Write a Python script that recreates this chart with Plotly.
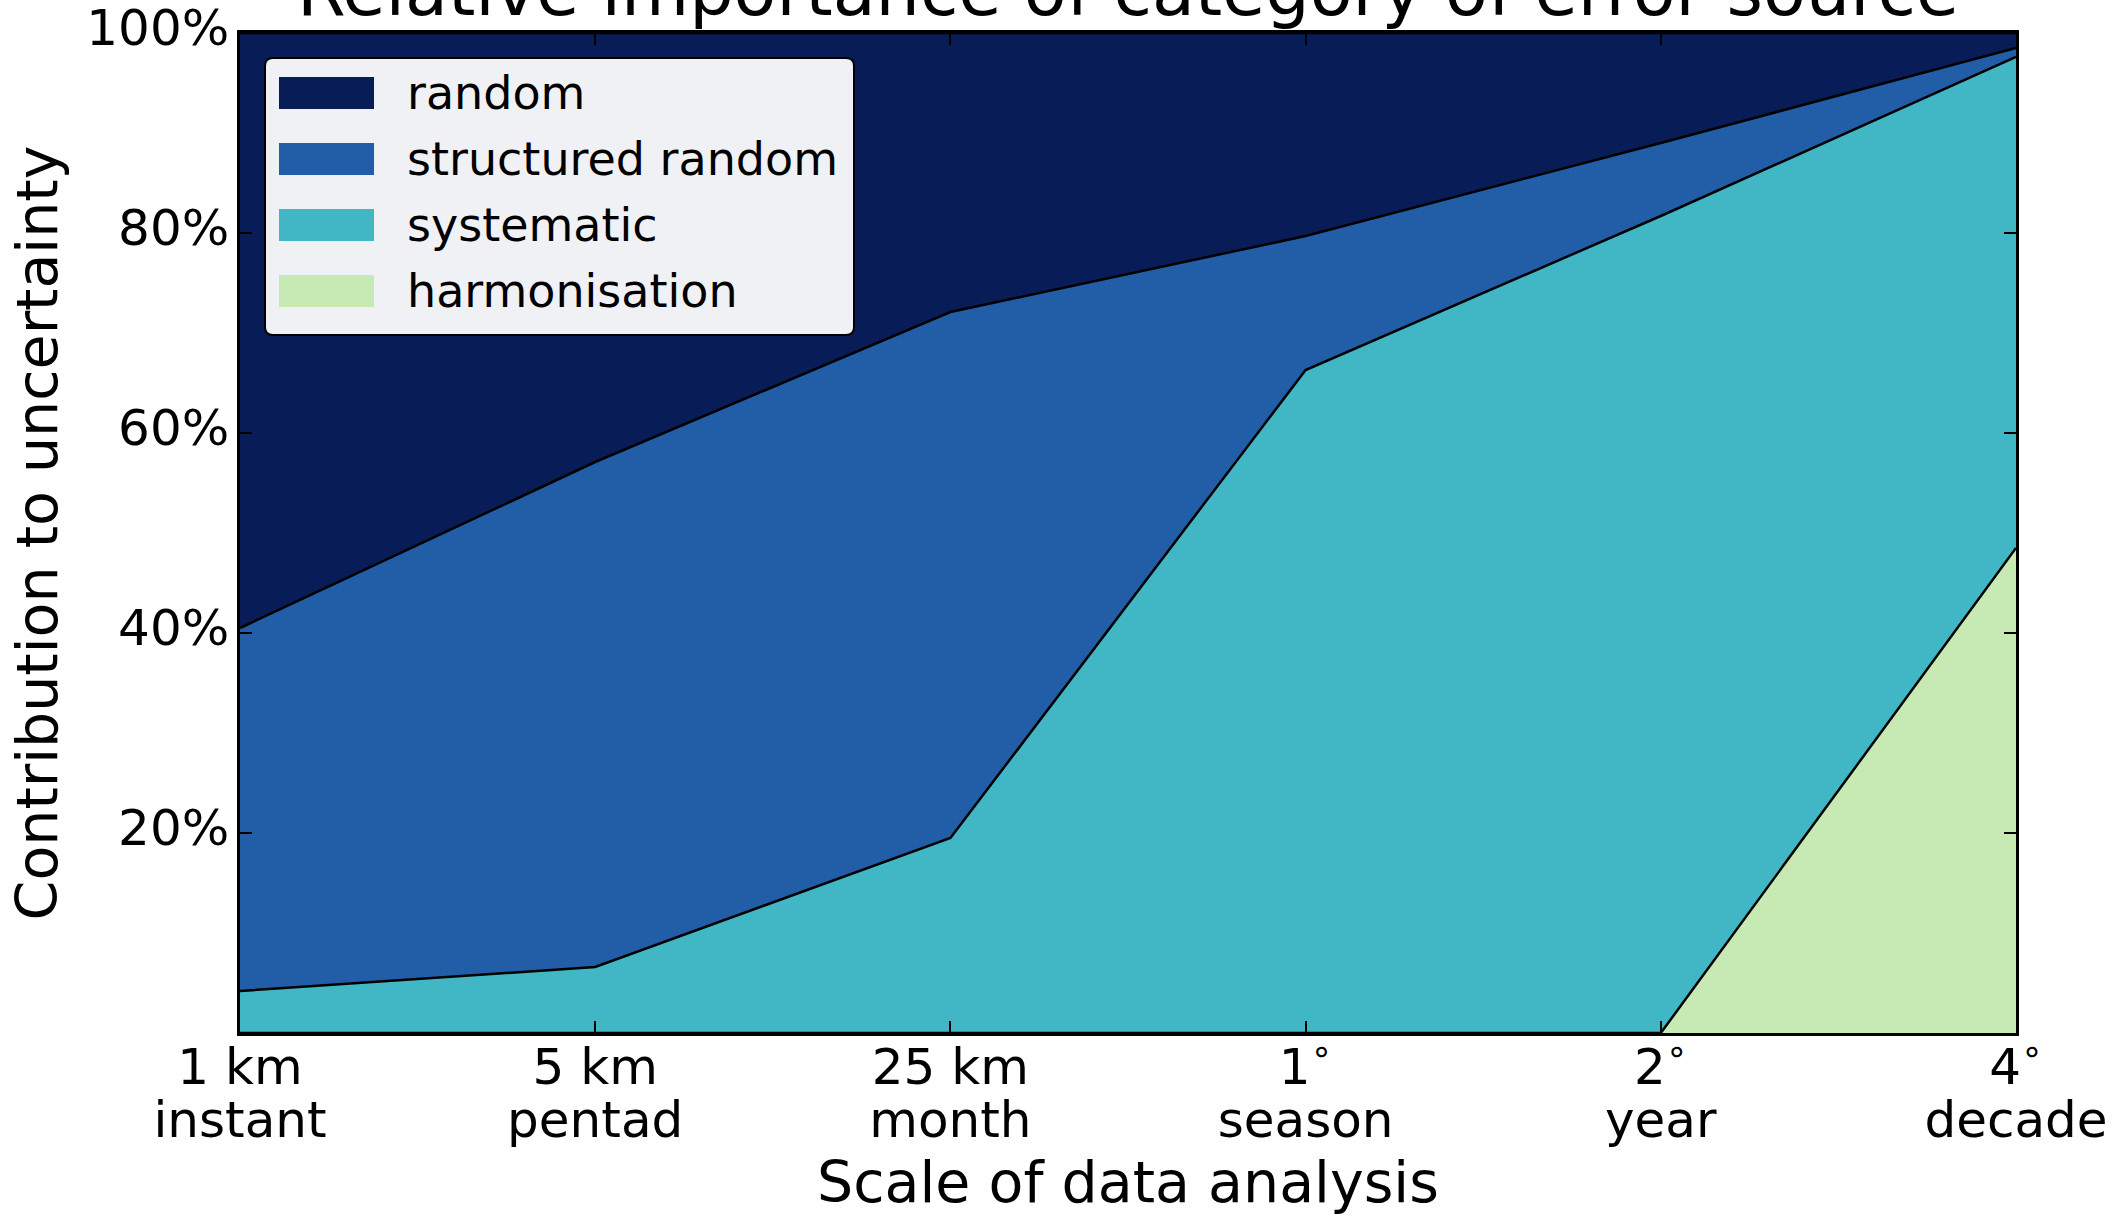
import plotly.graph_objects as go

# Scale of analysis (two-line axis labels) and contribution of each error source, in %
scale_labels = ["1 km", "5 km", "25 km", "1<sup>∘</sup>", "2<sup>∘</sup>", "4<sup>∘</sup>"]
period_labels = ["instant", "pentad", "month", "season", "year", "decade"]
positions = [0, 1, 2, 3, 4, 5]
y_ticks = [20, 40, 60, 80, 100]
y_tick_labels = ["20%", "40%", "60%", "80%", "100%"]

harmonisation = [0.0, 0.0, 0.0, 0.0, 0.0, 48.5]
systematic = [4.2, 6.6, 19.5, 66.3, 81.7, 49.1]
structured_random = [36.3, 50.5, 52.6, 13.4, 7.3, 0.9]
random_err = [59.5, 42.9, 27.9, 20.3, 11.0, 1.5]

# Stacked bottom to top
series_names = ["harmonisation", "systematic", "structured random", "random"]
series_values = [harmonisation, systematic, structured_random, random_err]
series_colors = ["#c7e9b4", "#41b6c4", "#225ea8", "#081d58"]

FONT = "DejaVu Sans"
W, H = 2116, 1217
ML, MR, MT, MB = 240, 100, 33, 184
PW, PH = W - ML - MR, H - MT - MB

fig = go.Figure()
for name, vals, col in zip(series_names, series_values, series_colors):
    fig.add_trace(go.Scatter(
        x=positions, y=vals, name=name, stackgroup="err", mode="lines",
        line=dict(color="black", width=2.5), fillcolor=col,
        showlegend=False, hoverinfo="skip",
    ))

# carrier for the second row of x tick labels
fig.add_trace(go.Scatter(x=positions, y=[None] * len(positions), xaxis="x2",
                         mode="lines", showlegend=False, hoverinfo="skip"))

axis_common = dict(
    showgrid=False, zeroline=False, showline=True, linecolor="black", linewidth=2.5,
    ticks="inside", ticklen=12, tickwidth=1.5, tickcolor="black", mirror="ticks",
    tickfont=dict(family=FONT, size=50, color="black"), automargin=False,
)

fig.update_layout(
    width=W, height=H, autosize=False,
    margin=dict(l=ML, r=MR, t=MT, b=MB, pad=0),
    paper_bgcolor="white", plot_bgcolor="white",
    font=dict(family=FONT, color="black"),
    xaxis=dict(range=[0, 5], tickmode="array", tickvals=positions, ticktext=scale_labels,
               ticklabelstandoff=-12, **axis_common),
    xaxis2=dict(range=[0, 5], overlaying="x", anchor="y", side="bottom", automargin=False,
                tickmode="array", tickvals=positions, ticktext=period_labels,
                showgrid=False, zeroline=False, showline=False, ticks="",
                tickfont=dict(family=FONT, size=50, color="black"),
                ticklabelstandoff=53,
                title=dict(text="Scale of data analysis",
                           font=dict(family=FONT, size=57, color="black"), standoff=10)),
    yaxis=dict(range=[0, 100], tickmode="array", tickvals=y_ticks, ticktext=y_tick_labels,
               ticklabelstandoff=-2, ticklabelshift=-6, ticklabeloverflow="allow",
               title=dict(text="Contribution to uncertainty",
                          font=dict(family=FONT, size=57, color="black"), standoff=11),
               **axis_common),
    showlegend=False,
)

# Title
fig.add_annotation(text="Relative importance of category of error source",
                   xref="paper", yref="paper", x=0.5, y=1.0, xanchor="center", yanchor="bottom",
                   yshift=-1, showarrow=False, font=dict(family=FONT, size=70, color="black"))

# Legend box, drawn in the upper-left of the plot
def px_x(p):
    return (p - ML) / PW

def px_y(p):
    return (H - MB - p) / PH

bx0, bx1, by0, by1 = px_x(265), px_x(854), px_y(58), px_y(335)
rx, ry = 8 / PW, 8 / PH
path = (f"M{bx0+rx},{by0} L{bx1-rx},{by0} Q{bx1},{by0} {bx1},{by0-ry} "
        f"L{bx1},{by1+ry} Q{bx1},{by1} {bx1-rx},{by1} L{bx0+rx},{by1} "
        f"Q{bx0},{by1} {bx0},{by1+ry} L{bx0},{by0-ry} Q{bx0},{by0} {bx0+rx},{by0} Z")
fig.add_shape(type="path", path=path, xref="paper", yref="paper",
              fillcolor="#f0f1f4", line=dict(color="black", width=2), layer="above")

row_centres = [93, 159, 225, 291]
for i, (name, col) in enumerate(zip(reversed(series_names), reversed(series_colors))):
    yc = row_centres[i]
    fig.add_shape(type="rect", xref="paper", yref="paper",
                  x0=px_x(279), x1=px_x(374), y0=px_y(yc + 16), y1=px_y(yc - 16),
                  fillcolor=col, line=dict(width=0), layer="above")
    fig.add_annotation(text=name, xref="paper", yref="paper", x=px_x(405), y=px_y(yc),
                       xanchor="left", yanchor="middle", showarrow=False,
                       font=dict(family=FONT, size=46, color="black"))

fig.write_html("out.html")
